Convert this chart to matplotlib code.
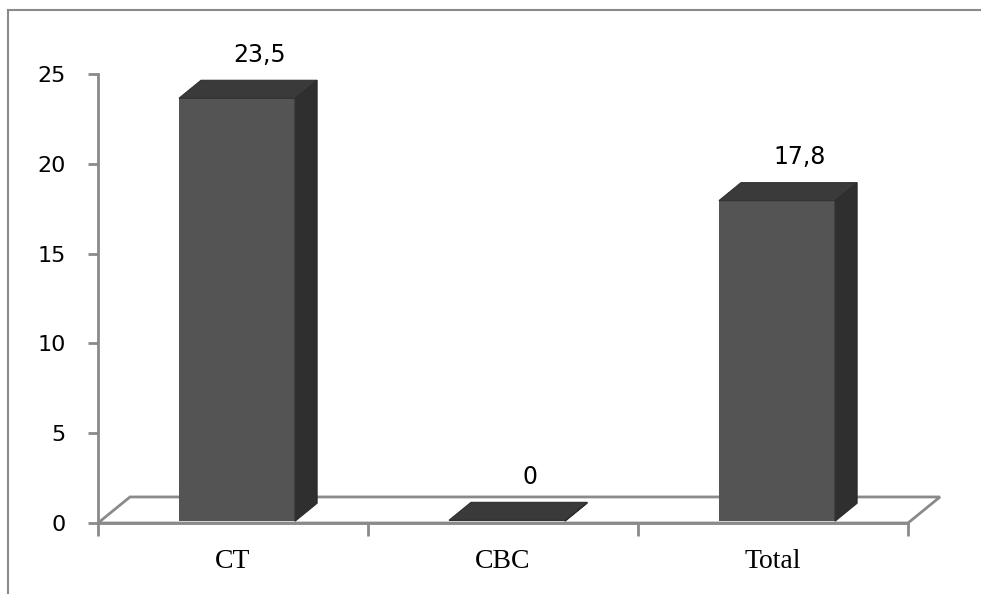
import matplotlib.pyplot as plt
from matplotlib.patches import Polygon
from matplotlib.lines import Line2D

categories = ["CT", "CBC", "Total"]
values = [23.5, 0, 17.8]
value_labels = ["23,5", "0", "17,8"]
y_ticks = [0, 5, 10, 15, 20, 25]

W, H = 981, 594
fig = plt.figure(figsize=(W / 100, H / 100), dpi=100)
ax = fig.add_axes([98 / W, 1 - 523 / H, 810 / W, 449 / H])
ax.set_xlim(-0.5, 2.5)
ax.set_ylim(0, 25)

grey = "#8a8a8a"
# depth offsets (data units)
fdx, fdy = 0.1185, 1.45   # floor
bdx, bdy = 0.0815, 1.0    # bars
left, right = -0.2, 0.23  # front face relative to category centre
base = 0.1

# floor
floor = Polygon([(-0.5, 0), (2.5, 0), (2.5 + fdx, fdy), (-0.5 + fdx, fdy)],
                closed=True, facecolor="white", edgecolor=grey, lw=2,
                clip_on=False, zorder=1)
ax.add_patch(floor)

x = list(range(len(categories)))
heights = [v + 0.05 for v in values]
ax.bar([i + (left + right) / 2 for i in x], heights, width=right - left,
       bottom=base, color="#545454", edgecolor="none", zorder=3)

for i, v in zip(x, values):
    top = base + v + 0.05
    top_face = Polygon([(i + left, top), (i + right, top),
                        (i + right + bdx, top + bdy), (i + left + bdx, top + bdy)],
                       closed=True, facecolor="#3a3a3a", edgecolor="#2e2e2e",
                       lw=0.8, clip_on=False, zorder=3)
    side_face = Polygon([(i + right, base), (i + right + bdx, base + bdy),
                         (i + right + bdx, top + bdy), (i + right, top)],
                        closed=True, facecolor="#2f2f2f", edgecolor="#2a2a2a",
                        lw=0.8, clip_on=False, zorder=3)
    ax.add_patch(side_face)
    ax.add_patch(top_face)

for i, v, lab in zip(x, values, value_labels):
    ax.text(i + 0.1, v + 1.9, lab, ha="center", va="bottom",
            fontsize=17, family="DejaVu Sans", color="black")

# axes styling
for s in ["top", "right"]:
    ax.spines[s].set_visible(False)
for s in ["left", "bottom"]:
    ax.spines[s].set_color(grey)
    ax.spines[s].set_linewidth(2)
    ax.spines[s].set_zorder(2)

ax.set_yticks(y_ticks)
ax.set_yticklabels([str(t) for t in y_ticks], family="DejaVu Sans", fontsize=16)
ax.tick_params(axis="y", length=7, width=2, color=grey, pad=16)

ax.set_xticks(x)
ax.set_xticklabels(categories, family="Liberation Serif", fontsize=20)
ax.tick_params(axis="x", length=0, pad=19)
ax.set_xticks([-0.5, 0.5, 1.5, 2.5], minor=True)
ax.tick_params(axis="x", which="minor", length=9, width=2, color=grey)

# outer frame (top and left edges visible)
fig.add_artist(Line2D([8 / W, 8 / W], [0, 1 - 10 / H], transform=fig.transFigure,
                      color=grey, lw=1.5))
fig.add_artist(Line2D([8 / W, 1], [1 - 10 / H, 1 - 10 / H], transform=fig.transFigure,
                      color=grey, lw=1.5))

fig.savefig("out.png", dpi=100)
